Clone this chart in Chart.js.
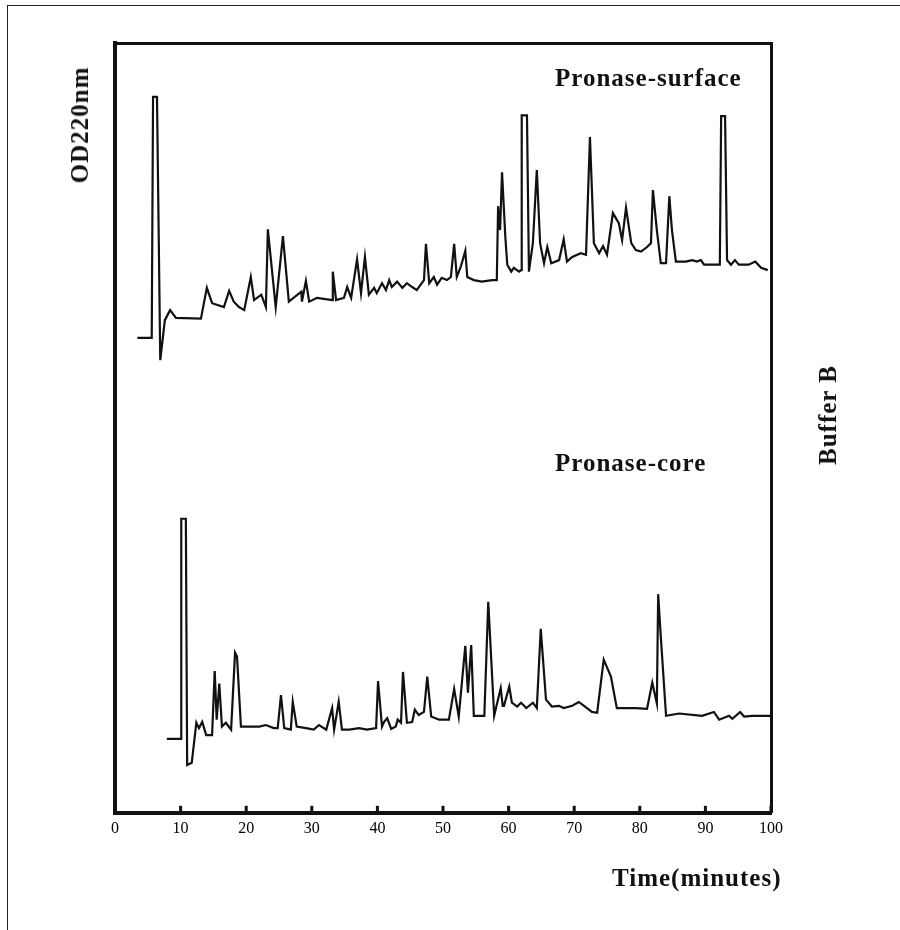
<!DOCTYPE html>
<html>
<head>
<meta charset="utf-8">
<script src="https://cdn.jsdelivr.net/npm/chart.js@4.4.0/dist/chart.umd.min.js"></script>
<style>
  body { margin: 0; background: #fff; }
  #wrap { position: relative; width: 900px; height: 930px; overflow: hidden; background: #fff; }
  #grafica { position: absolute; left: 0; top: 0; }
  .pagina { position: absolute; left: 7px; top: 5px; width: 900px; height: 930px;
            border-top: 1.5px solid #222; border-left: 1.5px solid #222; }
  .txt { position: absolute; font-family: "Liberation Serif", "DejaVu Serif", serif; font-weight: bold;
         font-size: 25px; line-height: 24px; color: #111; white-space: nowrap; letter-spacing: 1px; }
  .rot { transform: translate(-50%, -50%) rotate(-90deg); }
</style>
</head>
<body>
<div id="wrap">
  <div class="pagina"></div>
  <canvas id="grafica" width="900" height="930"></canvas>
  <div class="txt" style="left:555px; top:66px;">Pronase-surface</div>
  <div class="txt" style="left:555px; top:451px;">Pronase-core</div>
  <div class="txt" style="left:612px; top:866px;">Time(minutes)</div>
  <div class="txt rot" style="left:80px; top:125px;">OD220nm</div>
  <div class="txt rot" style="left:828px; top:415px;">Buffer B</div>
</div>

<script>
// tiempos (min) y absorbancia
const surfaceTime = [3.4,5.6,5.8,6.4,6.9,7.6,8.4,9.3,13.1,14.0,
    14.8,16.6,17.4,18.1,18.9,19.7,20.7,21.2,22.3,23.0,
    23.3,24.5,25.6,26.5,28.4,28.5,29.1,29.6,30.8,33.1,
    33.2,33.7,34.9,35.4,36.0,36.9,37.5,38.1,38.7,39.5,
    39.9,40.7,41.3,41.8,42.2,43.0,43.8,44.5,45.3,46.0,
    46.6,47.1,47.4,47.9,48.6,49.1,49.8,50.6,51.2,51.7,
    52.1,52.7,53.4,53.7,54.7,55.9,57.5,58.2,58.4,58.7,
    59.0,59.5,59.8,60.4,60.8,61.6,61.9,62.0,62.8,63.1,
    63.7,64.3,64.8,65.4,65.9,66.5,67.7,68.4,68.9,69.7,
    71.0,71.8,72.4,73.0,73.8,74.4,75.0,75.9,76.8,77.3,
    77.9,78.7,79.4,80.2,81.1,81.7,82.0,82.6,83.2,84.0,
    84.5,84.9,85.5,87.0,88.0,88.7,89.3,89.8,91.0,92.2,
    92.4,93.0,93.3,93.9,94.5,95.1,96.6,97.6,98.5,99.5];
const surfaceOD = [61.7,61.7,93.0,93.0,58.8,64.0,65.3,64.3,64.2,68.2,
    66.2,65.7,67.8,66.4,65.7,65.3,69.6,66.6,67.3,65.7,
    75.8,65.7,74.9,66.4,67.7,66.4,69.1,66.4,66.9,66.6,
    70.3,66.6,66.9,68.3,66.9,71.9,67.5,72.2,67.3,68.2,
    67.5,68.8,67.9,69.2,68.3,69.0,68.2,68.8,68.3,67.9,
    68.6,69.2,73.9,68.8,69.6,68.6,69.5,69.2,69.6,73.9,
    69.6,70.9,73.0,69.6,69.2,69.0,69.2,69.2,78.8,75.7,
    83.2,74.8,71.2,70.3,70.8,70.3,70.5,90.6,90.6,70.3,
    74.0,83.5,74.0,71.4,73.5,71.4,71.8,74.5,71.6,72.2,
    72.7,72.5,87.8,74.0,72.7,73.6,72.5,77.9,76.6,74.4,
    78.6,74.0,73.1,72.9,73.5,74.0,80.9,75.7,71.4,71.4,
    80.1,75.7,71.6,71.6,71.8,71.6,71.8,71.2,71.2,71.2,
    90.5,90.5,71.8,71.2,71.8,71.2,71.2,71.6,70.8,70.5];

const coreTime = [7.9,10.1,10.1,10.8,11.0,11.7,12.4,12.8,13.3,13.9,
    14.8,15.2,15.5,15.9,16.3,16.9,17.7,18.3,18.6,19.2,
    20.4,22.0,23.0,24.2,24.8,25.3,25.8,26.8,27.1,27.7,
    29.1,30.3,31.1,32.2,33.1,33.4,34.1,34.6,35.7,37.2,
    38.4,39.8,40.1,40.7,41.0,41.5,42.1,42.8,43.1,43.6,
    43.9,44.5,45.3,45.7,46.3,47.1,47.6,48.2,49.4,50.9,
    51.7,52.4,53.4,53.8,54.3,54.7,56.3,56.9,57.8,58.8,
    59.1,59.3,60.1,60.5,61.3,61.9,62.7,63.7,64.3,64.9,
    65.7,66.6,67.7,68.4,69.7,70.7,71.5,72.7,73.5,74.5,
    75.6,76.5,77.9,79.4,81.1,81.9,82.6,82.8,83.2,84.0,
    86.0,89.5,91.3,92.1,93.6,94.1,95.3,95.9,97.1,100];
const coreOD = [9.6,9.6,38.2,38.2,6.2,6.5,11.7,11.0,11.8,10.1,
    10.1,18.4,12.1,16.8,11.2,11.7,10.8,20.8,20.3,11.2,
    11.2,11.2,11.4,11.0,11.0,15.3,11.0,10.8,14.4,11.2,
    11.0,10.8,11.4,10.8,13.6,10.8,14.4,10.8,10.8,11.0,
    10.8,11.0,17.1,11.2,11.8,12.3,10.9,11.2,12.1,11.7,
    18.3,11.7,11.8,13.4,12.7,13.1,17.7,12.5,12.1,12.1,
    16.1,12.5,21.7,15.6,21.8,12.6,12.6,27.4,12.6,16.2,
    13.9,13.9,16.4,14.3,13.8,14.3,13.6,14.3,13.6,23.9,
    14.7,13.8,13.9,13.6,13.9,14.4,13.9,13.1,13.0,19.9,
    17.7,13.6,13.6,13.6,13.5,16.9,14.2,28.4,22.9,12.6,
    12.9,12.6,13.1,12.1,12.6,12.2,13.1,12.5,12.6,12.6];

const tickMinutes = [0,10,20,30,40,50,60,70,80,90,100];

function puntos(tiempos, valores) {
    const lista = [];
    for (let i = 0; i < tiempos.length; i++) {
        lista.push({ x: tiempos[i], y: valores[i] });
    }
    return lista;
}

// marcas de tick hacia dentro sobre el eje inferior
const marcasInternas = {
    id: "marcasInternas",
    afterDatasetsDraw(chart) {
        const ctx = chart.ctx;
        const escala = chart.scales.x;
        const abajo = chart.chartArea.bottom;
        ctx.save();
        ctx.strokeStyle = "#111";
        ctx.lineWidth = 3;
        for (const t of tickMinutes) {
            const px = escala.getPixelForValue(t);
            ctx.beginPath();
            ctx.moveTo(px, abajo);
            ctx.lineTo(px, abajo - 7);
            ctx.stroke();
        }
        ctx.restore();
    }
};

const ejeOculto = (pos, ancho) => ({
    type: "linear",
    position: pos,
    min: 0,
    max: 100,
    ticks: { display: false },
    grid: { display: true, drawOnChartArea: false, drawTicks: false },
    border: { display: true, width: ancho, color: "#111" }
});

ChartPrincipal = new Chart(document.getElementById("grafica"), {
    type: "line",
    data: {
        datasets: [
            {
                label: "Pronase-surface",
                data: puntos(surfaceTime, surfaceOD),
                borderColor: "#111",
                borderWidth: 2.2,
                pointRadius: 0,
                tension: 0,
                fill: false
            },
            {
                label: "Pronase-core",
                data: puntos(coreTime, coreOD),
                borderColor: "#111",
                borderWidth: 2.2,
                pointRadius: 0,
                tension: 0,
                fill: false
            }
        ]
    },
    options: {
        responsive: false,
        animation: false,
        devicePixelRatio: 1,
        layout: { padding: { left: 115, right: 129, top: 43, bottom: 86 } },
        plugins: { legend: { display: false }, tooltip: { enabled: false } },
        scales: {
            x: {
                type: "linear",
                position: "bottom",
                min: 0,
                max: 100,
                afterBuildTicks: (eje) => { eje.ticks = tickMinutes.map(v => ({ value: v })); },
                ticks: {
                    color: "#000",
                    padding: 6,
                    maxRotation: 0,
                    font: { family: "Liberation Serif", size: 16 }
                },
                grid: { display: true, drawOnChartArea: false, drawTicks: false },
                border: { display: true, width: 4, color: "#111" }
            },
            xTop: Object.assign(ejeOculto("top", 3), { axis: "x" }),
            y: ejeOculto("left", 4),
            yRight: ejeOculto("right", 3)
        }
    },
    plugins: [marcasInternas]
});
</script>
</body>
</html>
